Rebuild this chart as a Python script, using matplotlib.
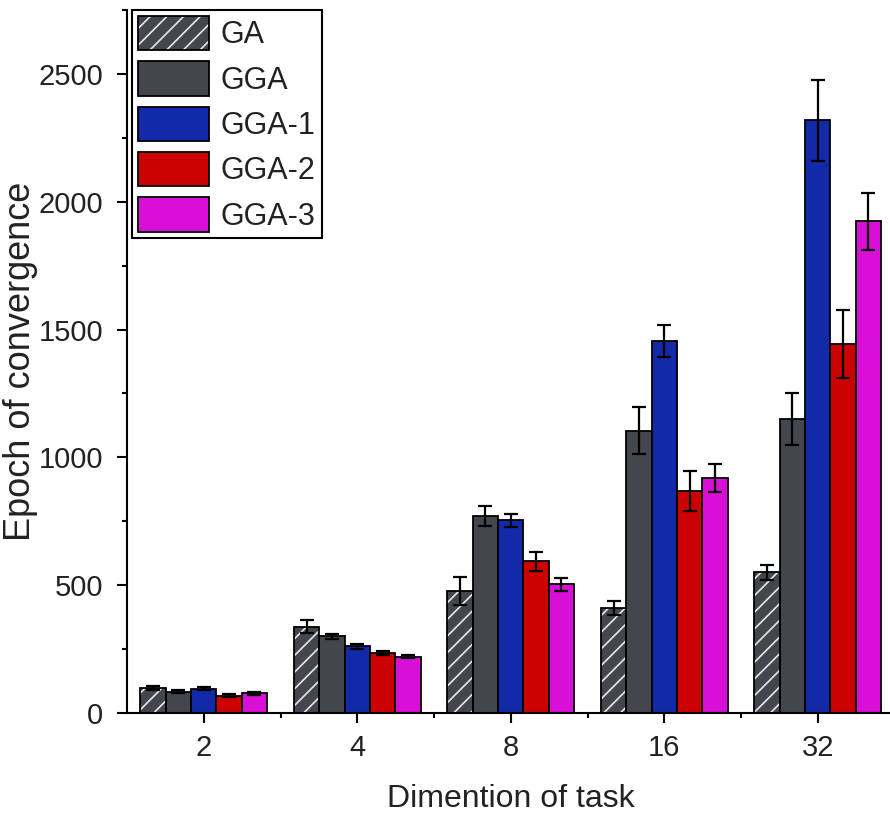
import numpy as np
import matplotlib
matplotlib.use('Agg')
import matplotlib.pyplot as plt
from matplotlib.patches import Patch
from matplotlib.ticker import MultipleLocator

plt.rcParams['font.family'] = ['Liberation Sans', 'DejaVu Sans']
plt.rcParams['hatch.linewidth'] = 1.2

# task dimensions on the x axis
dims = ['2', '4', '8', '16', '32']
methods = ['GA', 'GGA', 'GGA-1', 'GGA-2', 'GGA-3']

# mean epochs of convergence, one list per method
ga_mean = [97, 337, 476, 410, 550]
gga_mean = [83, 300, 770, 1104, 1150]
gga1_mean = [95, 261, 753, 1455, 2318]
gga2_mean = [68, 234, 594, 870, 1443]
gga3_mean = [78, 220, 503, 918, 1923]

# standard deviations
ga_err = [8, 26, 55, 27, 29]
gga_err = [6, 10, 38, 91, 100]
gga1_err = [6, 10, 27, 63, 160]
gga2_err = [6, 9, 37, 78, 132]
gga3_err = [6, 6, 27, 55, 110]

means = [ga_mean, gga_mean, gga1_mean, gga2_mean, gga3_mean]
errs = [ga_err, gga_err, gga1_err, gga2_err, gga3_err]
colors = ['#43464d', '#43464d', '#1229a8', '#cc0202', '#d80fd6']
hatches = ['//', None, None, None, None]

txt = '#222222'

fig = plt.figure(figsize=(8.9, 8.17), dpi=100)
ax = fig.add_axes([0.1427, 0.1273, 0.8624, 0.8605])

x = np.arange(len(dims))
w = 0.165
handles = []
for i, (m, e, c, h) in enumerate(zip(means, errs, colors, hatches)):
    pos = x + (i - 2) * w
    if h:
        # white hatch first, black outline on top
        ax.bar(pos, m, w, color=c, edgecolor='#e8e8e8', hatch=h, linewidth=0, zorder=2)
        ax.bar(pos, m, w, fill=False, edgecolor='black', linewidth=1.3, zorder=3)
        hp = Patch(facecolor=c, edgecolor='#e8e8e8', hatch=h, linewidth=0)
        op = Patch(fill=False, edgecolor='black', linewidth=1.3)
        handles.append((hp, op))
    else:
        ax.bar(pos, m, w, color=c, edgecolor='black', linewidth=1.3, zorder=2)
        handles.append(Patch(facecolor=c, edgecolor='black', linewidth=1.3))
    ax.errorbar(pos, m, yerr=e, fmt='none', ecolor='black', elinewidth=1.6,
                capsize=5, capthick=1.6, zorder=4)

ax.set_xlim(-0.5, 4.5)
ax.set_ylim(0, 2750)
ax.set_xticks(x)
ax.set_xticklabels(dims)
ax.set_xticks(x[:-1] + 0.5, minor=True)
ax.yaxis.set_major_locator(MultipleLocator(500))
ax.yaxis.set_minor_locator(MultipleLocator(250))

for s in ['top', 'right']:
    ax.spines[s].set_visible(False)
for s in ['left', 'bottom']:
    ax.spines[s].set_linewidth(1.5)

ax.tick_params(which='major', direction='out', length=7, width=1.5,
               labelsize=21, labelcolor=txt)
ax.tick_params(axis='y', which='major', pad=10)
ax.tick_params(axis='x', which='major', pad=8)
ax.tick_params(which='minor', direction='out', length=3.5, width=1.5)

ax.set_xlabel('Dimention of task', fontsize=23, color=txt, labelpad=16)
ax.set_ylabel('Epoch of convergence', fontsize=26, color=txt)
ax.yaxis.set_label_coords(-0.116, 0.5)

leg = ax.legend(handles, methods, loc='upper left', bbox_to_anchor=(0.007, 1.0),
                fontsize=22, handlelength=2.3, handleheight=1.35,
                labelspacing=0.36, borderpad=0.2, handletextpad=0.4,
                borderaxespad=0, fancybox=False, framealpha=1,
                edgecolor='black')
leg.get_frame().set_linewidth(1.5)
for t in leg.get_texts():
    t.set_color(txt)

fig.savefig('out.png', dpi=100)
